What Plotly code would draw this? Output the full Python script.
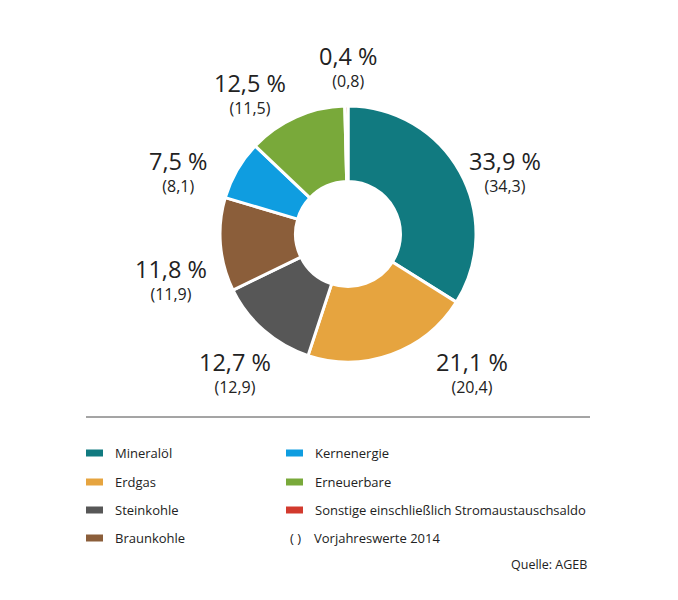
import plotly.graph_objects as go

# Daten
energietraeger = ["Mineralöl", "Erdgas", "Steinkohle", "Braunkohle",
                  "Kernenergie", "Erneuerbare",
                  "Sonstige einschließlich Stromaustauschsaldo"]
anteile_2015 = [33.9, 21.1, 12.7, 11.8, 7.5, 12.5, 0.4]
anteile_2014 = [34.3, 20.4, 12.9, 11.9, 8.1, 11.5, 0.8]
farben = ["#117a80", "#e6a43f", "#575757", "#8b5e3a",
          "#0f9de0", "#79a93a", "#d23a2e"]
vorjahr_text = "Vorjahreswerte 2014"
quelle = "Quelle: AGEB"

# die Seite hat 8 px Rand, die Grafik wird entsprechend kleiner
RAND = 8
W, H = 678 - RAND, 600 - RAND
SCHRIFT = "Open Sans"
TEXTFARBE = "#222222"

# Layout (Pixel im Fenster) - Kreismitte, Radius, Lage der Beschriftungen
CX, CY, R = 348, 234, 128
label_pos = [(505, 171), (472, 372), (235, 372), (171, 279),
             (178, 171), (250, 93), (348, 66)]


def px(x):
    return (x - RAND) / W


def py(y):
    return 1 - (y - RAND) / H


def de(v):
    return f"{v:.1f}".replace(".", ",")


fig = go.Figure()
fig.add_trace(go.Pie(
    labels=energietraeger, values=anteile_2015,
    sort=False, direction="clockwise", rotation=0, hole=0.41,
    marker=dict(colors=farben, line=dict(color="white", width=3)),
    textinfo="none", showlegend=False,
    domain=dict(x=[px(CX - R), px(CX + R)], y=[py(CY + R), py(CY - R)]),
))

annotations = []
for (lx, ly), v15, v14 in zip(label_pos, anteile_2015, anteile_2014):
    text = ("<span style='font-size:23.5px'>" + de(v15) + " %</span><br>"
            "<span style='font-size:16px'>(" + de(v14) + ")</span>")
    annotations.append(dict(x=px(lx), y=py(ly), text=text,
                            font=dict(size=17, color=TEXTFARBE)))

# Legende (zwei Spalten)
shapes = [dict(type="line", xref="paper", yref="paper",
               x0=px(86), x1=px(590), y0=py(417), y1=py(417),
               line=dict(color="#4a4a4a", width=1))]
zeilen = [453, 482, 510, 538]
spalten = [86, 286]
eintraege = list(zip(energietraeger, farben))
for i, (name, farbe) in enumerate(eintraege):
    sx = spalten[i // 4]
    sy = zeilen[i % 4]
    shapes.append(dict(type="rect", xref="paper", yref="paper",
                       x0=px(sx), x1=px(sx + 17), y0=py(sy + 3.5), y1=py(sy - 3.5),
                       fillcolor=farbe, line=dict(width=0)))
    annotations.append(dict(x=px(sx + 27), y=py(sy), text=name, xanchor="left",
                            font=dict(size=13, color=TEXTFARBE)))
annotations.append(dict(x=px(295), y=py(zeilen[3]), text="( )",
                        font=dict(size=13, color=TEXTFARBE)))
annotations.append(dict(x=px(spalten[1] + 26), y=py(zeilen[3]), text=vorjahr_text,
                        xanchor="left", font=dict(size=13, color=TEXTFARBE)))
annotations.append(dict(x=px(589), y=py(564), text=quelle, xanchor="right",
                        font=dict(size=12.5, color=TEXTFARBE)))

for a in annotations:
    a.setdefault("xref", "paper")
    a.setdefault("yref", "paper")
    a.setdefault("showarrow", False)
    a.setdefault("xanchor", "center")
    a.setdefault("yanchor", "middle")

fig.update_layout(
    width=W, height=H,
    margin=dict(l=0, r=0, t=0, b=0),
    paper_bgcolor="white", plot_bgcolor="white",
    font=dict(family=SCHRIFT, color=TEXTFARBE),
    shapes=shapes, annotations=annotations,
)

fig.write_html("out.html")
